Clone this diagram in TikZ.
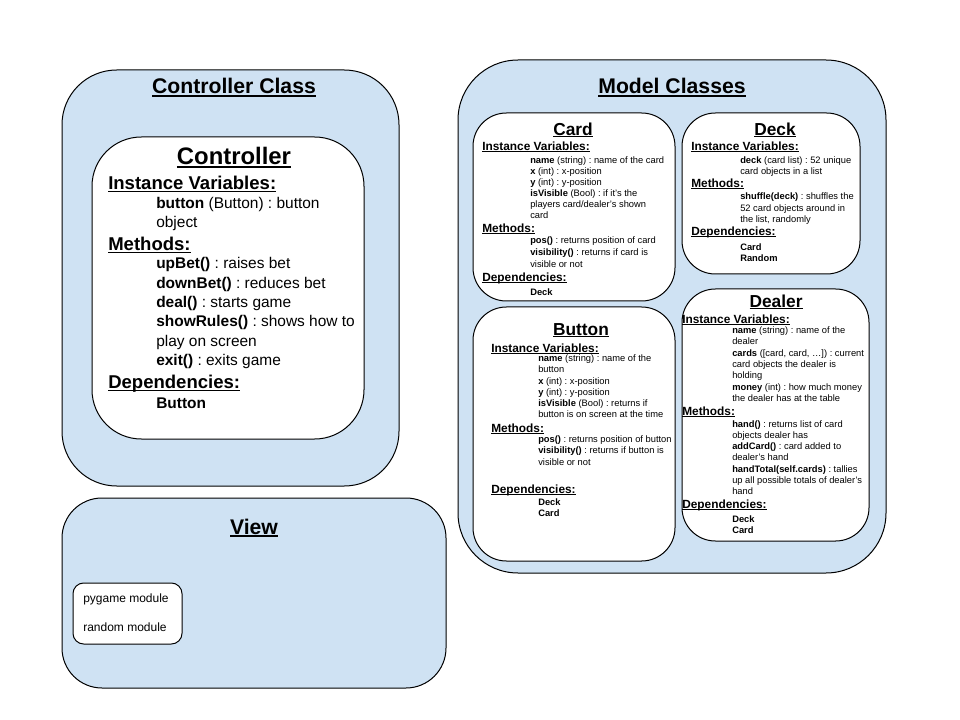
\documentclass[tikz,border=0pt]{standalone}
\usepackage{fontspec}
\setmainfont{Liberation Sans}
\usetikzlibrary{fit}
\definecolor{lblue}{HTML}{CFE2F3}
\frenchspacing
\newlength\ulw
\newcommand\myul[1]{\settowidth\ulw{#1}\rlap{\rule[-0.13em]{\ulw}{0.07em}}#1}
\newcommand\tline[4][]{\node[anchor=base west,inner sep=0pt,#1] (#2) at (#3) {#4};}
\begin{document}
\begin{tikzpicture}[x=0.75pt,y=-0.75pt,
  outerbox/.style={draw=black,line width=0.75pt,fill=lblue,inner sep=0pt},
  innerbox/.style={draw=black,line width=0.75pt,fill=white,inner sep=0pt},
  bigt/.style={font=\fontsize{15.9}{19}\selectfont\bfseries,anchor=base},
  ct/.style={font=\fontsize{17.9}{21}\selectfont\bfseries,anchor=base},
  ch/.style={font=\fontsize{13.9}{16}\selectfont\bfseries,yshift=-0.6pt},
  cb/.style={font=\fontsize{11.6}{14}\selectfont,yshift=-0.6pt},
  st/.style={font=\fontsize{13}{15}\selectfont\bfseries,anchor=base,yshift=-0.8pt},
  sh/.style={font=\fontsize{8.9}{10}\selectfont\bfseries,yshift=-1.1pt},
  sb/.style={font=\fontsize{7}{8}\selectfont,yshift=-1.1pt},
  md/.style={font=\fontsize{9}{11}\selectfont}]
\useasboundingbox (0,0) rectangle (960,720);

% outer boxes
\node[outerbox,rounded corners=41pt,fit={(62,70) (399,486)}] (ctrlclass) {};
\node[outerbox,rounded corners=30pt,fit={(62,498) (446,688)}] (view) {};
\node[outerbox,rounded corners=45pt,fit={(458,60) (886,573)}] (model) {};

% inner boxes
\node[innerbox,rounded corners=37pt,fit={(92,137) (364,439)}] (ctrl) {};
\node[innerbox,rounded corners=8pt,fit={(73,583) (182,644)}] (mods) {};
\node[innerbox,rounded corners=25pt,fit={(473,113) (675,301)}] (card) {};
\node[innerbox,rounded corners=25pt,fit={(682,113) (860,274)}] (deck) {};
\node[innerbox,rounded corners=25pt,fit={(473,307) (675,561)}] (button) {};
\node[innerbox,rounded corners=25pt,fit={(682,289) (869,541)}] (dealer) {};

% Controller
\tline[bigt]{ctrlT}{234,94}{\myul{Controller Class}}
\tline[ct]{cT}{234,165}{\myul{Controller}}
\tline[ch]{cIV}{108,189}{\myul{Instance Variables:}}
\tline[cb]{c1}{156,208}{\textbf{button} (Button) : button}
\tline[cb]{c2}{156,227}{object}
\tline[ch]{cM}{108,250}{\myul{Methods:}}
\tline[cb]{c3}{156,268}{\textbf{upBet()} : raises bet}
\tline[cb]{c4}{156,288}{\textbf{downBet()} : reduces bet}
\tline[cb]{c5}{156,307}{\textbf{deal()} : starts game}
\tline[cb]{c6}{156,326}{\textbf{showRules()} : shows how to}
\tline[cb]{c7}{156,346}{play on screen}
\tline[cb]{c8}{156,365}{\textbf{exit()} : exits game}
\tline[ch]{cD}{108,388}{\myul{Dependencies:}}
\tline[cb]{c9}{156,408}{\textbf{Button}}

% View
\tline[bigt]{viewT}{254,534}{\myul{View}}
\tline[md]{m1}{83,602}{pygame module}
\tline[md]{m2}{83,631}{random module}

% Model
\tline[bigt]{modelT}{672,94}{\myul{Model Classes}}

% Card
\tline[st]{cardT}{573,134}{\myul{Card}}
\tline[sh]{cardIV}{482,149}{\myul{Instance Variables:}}
\tline[sb]{k1}{530,162}{\textbf{name} (string) : name of the card}
\tline[sb]{k2}{530,173}{\textbf{x} (int) : x-position}
\tline[sb]{k3}{530,184}{\textbf{y} (int) : y-position}
\tline[sb]{k4}{530,195}{\textbf{isVisible} (Bool) : if it’s the}
\tline[sb]{k5}{530,206}{players card/dealer’s shown}
\tline[sb]{k6}{530,217}{card}
\tline[sh]{cardM}{482,231}{\myul{Methods:}}
\tline[sb]{k7}{530,242}{\textbf{pos()} : returns position of card}
\tline[sb]{k8}{530,254}{\textbf{visibility()} : returns if card is}
\tline[sb]{k9}{530,266}{visible or not}
\tline[sh]{cardD}{482,280}{\myul{Dependencies:}}
\tline[sb]{k10}{530,294}{\textbf{Deck}}

% Deck
\tline[st]{deckT}{775,134}{\myul{Deck}}
\tline[sh]{deckIV}{691,149}{\myul{Instance Variables:}}
\tline[sb]{d1}{740,162}{\textbf{deck} (card list) : 52 unique}
\tline[sb]{d2}{740,173}{card objects in a list}
\tline[sh]{deckM}{691,186}{\myul{Methods:}}
\tline[sb]{d3}{740,198}{\textbf{shuffle(deck)} : shuffles the}
\tline[sb]{d4}{740,210}{52 card objects around in}
\tline[sb]{d5}{740,221}{the list, randomly}
\tline[sh]{deckD}{691,234}{\myul{Dependencies:}}
\tline[sb]{d6}{740,249}{\textbf{Card}}
\tline[sb]{d7}{740,260}{\textbf{Random}}

% Button
\tline[st]{btnT}{581,334}{\myul{Button}}
\tline[sh]{btnIV}{491,351}{\myul{Instance Variables:}}
\tline[sb]{b1}{538,360}{\textbf{name} (string) : name of the}
\tline[sb]{b2}{538,371}{button}
\tline[sb]{b3}{538,383}{\textbf{x} (int) : x-position}
\tline[sb]{b4}{538,394}{\textbf{y} (int) : y-position}
\tline[sb]{b5}{538,405}{\textbf{isVisible} (Bool) : returns if}
\tline[sb]{b6}{538,416}{button is on screen at the time}
\tline[sh]{btnM}{491,431}{\myul{Methods:}}
\tline[sb]{b7}{538,441}{\textbf{pos()} : returns position of button}
\tline[sb]{b8}{538,452}{\textbf{visibility()} : returns if button is}
\tline[sb]{b9}{538,464}{visible or not}
\tline[sh]{btnD}{491,492}{\myul{Dependencies:}}
\tline[sb]{b10}{538,504}{\textbf{Deck}}
\tline[sb]{b11}{538,515}{\textbf{Card}}

% Dealer
\tline[st]{dlrT}{776,306}{\myul{Dealer}}
\tline[sh]{dlrIV}{682,322}{\myul{Instance Variables:}}
\tline[sb]{e1}{732,332}{\textbf{name} (string) : name of the}
\tline[sb]{e2}{732,343}{dealer}
\tline[sb]{e3}{732,355}{\textbf{cards} ([card, card, …]) : current}
\tline[sb]{e4}{732,366}{card objects the dealer is}
\tline[sb]{e5}{732,377}{holding}
\tline[sb]{e6}{732,389}{\textbf{money} (int) : how much money}
\tline[sb]{e7}{732,400}{the dealer has at the table}
\tline[sh]{dlrM}{682,414}{\myul{Methods:}}
\tline[sb]{e8}{732,426}{\textbf{hand()} : returns list of card}
\tline[sb]{e9}{732,437}{objects dealer has}
\tline[sb]{e10}{732,448}{\textbf{addCard()} : card added to}
\tline[sb]{e11}{732,459}{dealer’s hand}
\tline[sb]{e12}{732,471}{\textbf{handTotal(self.cards)} : tallies}
\tline[sb]{e13}{732,482}{up all possible totals of dealer’s}
\tline[sb]{e14}{732,493}{hand}
\tline[sh]{dlrD}{682,507}{\myul{Dependencies:}}
\tline[sb]{e15}{732,521}{\textbf{Deck}}
\tline[sb]{e16}{732,532}{\textbf{Card}}
\end{tikzpicture}
\end{document}
